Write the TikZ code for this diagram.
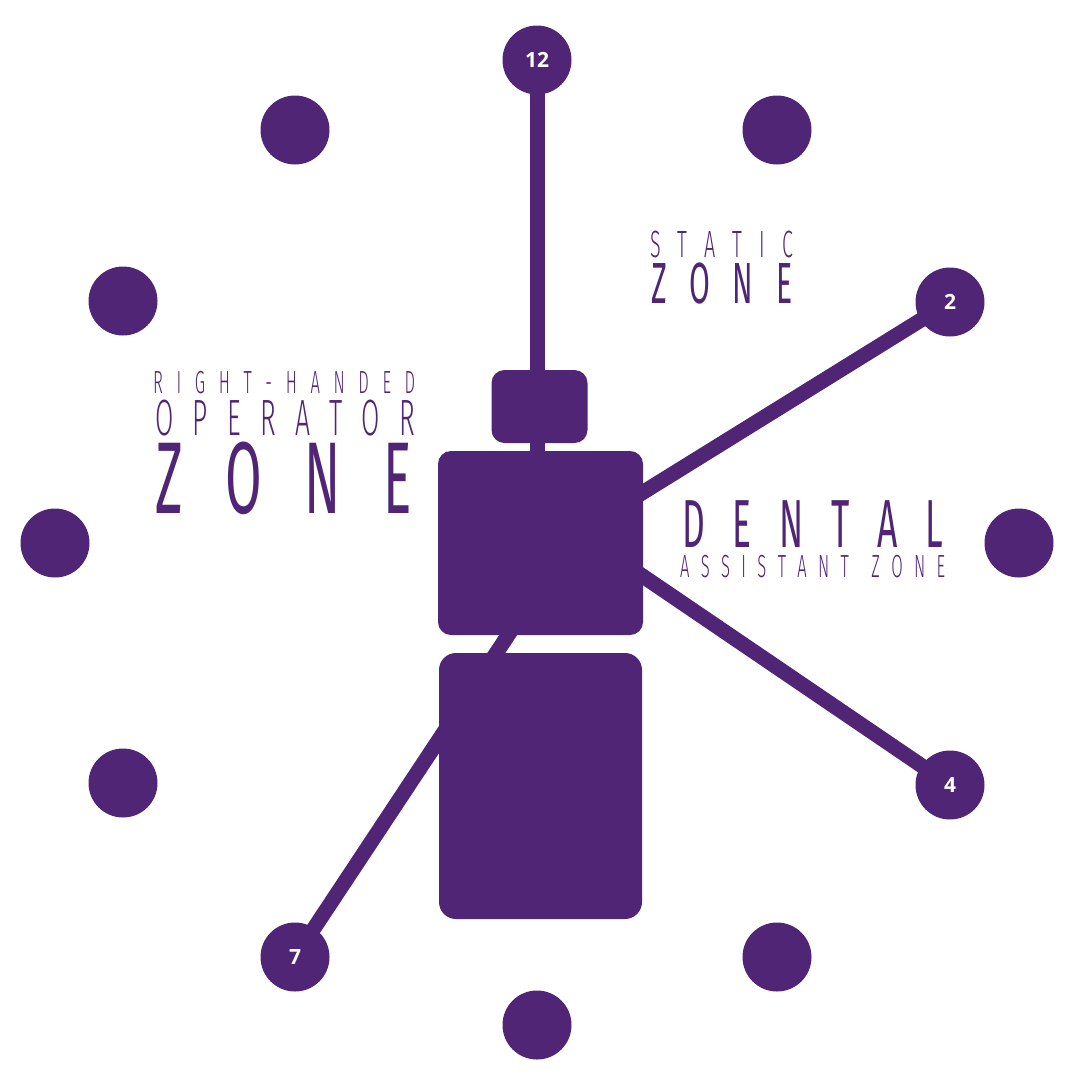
\documentclass[tikz,border=0pt]{standalone}
\usepackage{fontspec}
\usepackage{tikz}
\usetikzlibrary{calc}
\newfontfamily\zonefont[FakeStretch=0.52]{Fira Sans Light}
\newfontfamily\zoneheavyfont[FakeStretch=0.52]{Fira Sans}
\newfontfamily\hourfont{Open Sans}
\definecolor{zonepurple}{RGB}{81,37,118}
\newcommand{\zonesize}[1]{\fontsize{#1}{#1}\selectfont}
\tikzset{hour dot/.style={circle,fill=zonepurple,minimum size=69pt,inner sep=0pt,text=white,font={\hourfont\bfseries\zonesize{21}}},
spoke/.style={draw=zonepurple,line width=15pt,shorten <=-5pt},
chair part/.style={rectangle,fill=zonepurple,rounded corners=13pt,inner sep=0pt},
zone text/.style={text=zonepurple,inner sep=0pt,anchor=base west,font={\zonefont\zonesize{#1}},text height={0.69*#1pt},text depth=0pt},
heavy zone text/.style={zone text=#1,font={\zoneheavyfont\zonesize{#1}}}}

\begin{document}
\begin{tikzpicture}[x=1pt,y=-1pt]
\useasboundingbox[fill=white] (0,0) rectangle (1080,1080);

% Dots of the clock face
\node[hour dot] (h12) at (537,60) {12};
\node[hour dot] (h1) at (777,130) {};
\node[hour dot] (h2) at (950,302) {2};
\node[hour dot] (h3) at (1019,543) {};
\node[hour dot] (h4) at (950,785) {4};
\node[hour dot] (h5) at (777,957) {};
\node[hour dot] (h6) at (537,1025) {};
\node[hour dot] (h7) at (295,957) {7};
\node[hour dot] (h8) at (123,783) {};
\node[hour dot] (h9) at (55,543) {};
\node[hour dot] (h10) at (123,301) {};
\node[hour dot] (h11) at (295,130) {};

% Spokes end under the chair
\coordinate (hub12) at (537,600);
\coordinate (hub2) at (600,519);
\coordinate (hub4) at (600,547);
\coordinate (hub7) at (540,587);

\draw[spoke] (h12) -- (hub12);
\draw[spoke] (h2) -- (hub2);
\draw[spoke] (h4) -- (hub4);
\draw[spoke] (h7) -- (hub7);

% Chair seen from above
\node[chair part, minimum width=96pt, minimum height=73pt] (head) at (539.5,406.5) {};
\node[chair part, minimum width=205pt, minimum height=184pt] (back) at (540.5,543) {};
\node[chair part, minimum width=203pt, minimum height=266pt, rounded corners=17pt] (seat) at (540.5,786) {};

% Zone labels
\node[zone text=32] (rh1) at (153,393) {\makebox[262pt][s]{R\hfill I\hfill G\hfill H\hfill T\hfill -\hfill H\hfill A\hfill N\hfill D\hfill E\hfill D}};
\node[zone text=51] (rh2) at (155,435) {\makebox[260pt][s]{O\hfill P\hfill E\hfill R\hfill A\hfill T\hfill O\hfill R}};
\node[heavy zone text=102] (rh3) at (155,513) {\makebox[257pt][s]{Z\hfill O\hfill N\hfill E}};

\node[zone text=38] (st1) at (650,257) {\makebox[143pt][s]{S\hfill T\hfill A\hfill T\hfill I\hfill C}};
\node[heavy zone text=58] (st2) at (651,303) {\makebox[141pt][s]{Z\hfill O\hfill N\hfill E}};

\node[heavy zone text=68] (da1) at (682,547) {\makebox[261pt][s]{D\hfill E\hfill N\hfill T\hfill A\hfill L}};
\node[zone text=32] (da2) at (680,577) {\makebox[265pt][s]{A\hfill S\hfill S\hfill I\hfill S\hfill T\hfill A\hfill N\hfill T\hfill\hfill Z\hfill O\hfill N\hfill E}};

\end{tikzpicture}
\end{document}
